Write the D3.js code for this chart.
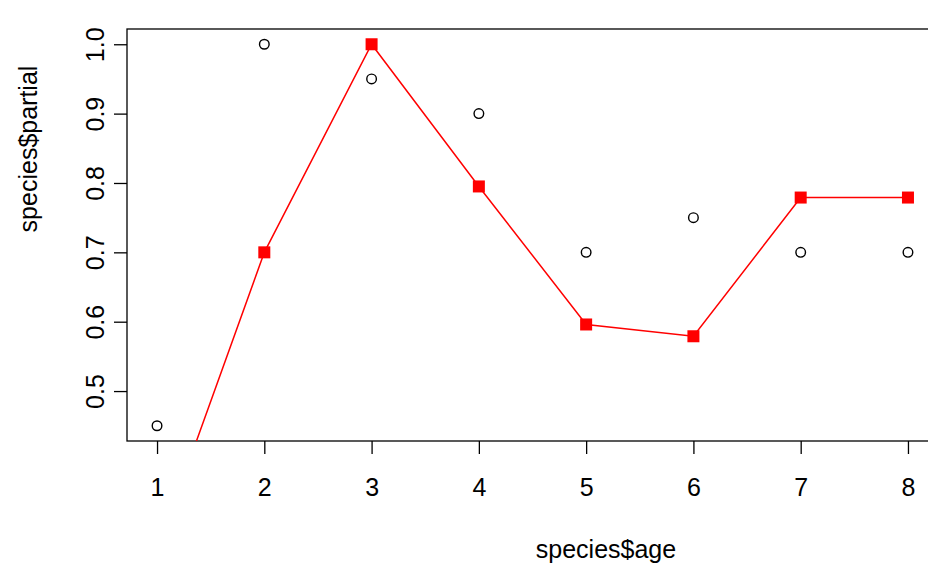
<!DOCTYPE html>
<html>
<head>
<meta charset="utf-8">
<script src="https://cdn.jsdelivr.net/npm/d3@7"></script>
<style>
  body { margin: 0; background: #fff; }
  text { font-family: "Liberation Sans", Arial, sans-serif; fill: #000; }
</style>
</head>
<body>
<svg id="chart" width="928" height="567"></svg>
<script>
// observed values (open circles)
const ages = [1, 2, 3, 4, 5, 6, 7, 8];
const partial = [0.45, 1.0, 0.95, 0.9, 0.7, 0.75, 0.7, 0.7];
// fitted values (red squares + line)
const fitted = [0.27, 0.7, 1.0, 0.795, 0.596, 0.579, 0.779, 0.779];
const xTicks = [1, 2, 3, 4, 5, 6, 7, 8];
const yTicks = [0.5, 0.6, 0.7, 0.8, 0.9, 1.0];

const svg = d3.select("#chart");
const margin = { left: 127, top: 29, right: -10, bottom: 126 };
const width = 928, height = 567;
const fontSize = 25;

// R style 4% padding on the ranges
const xPad = (d3.max(ages) - d3.min(ages)) * 0.04;
const yPad = (d3.max(partial) - d3.min(partial)) * 0.04;

const x = d3.scaleLinear()
  .domain([d3.min(ages) - xPad, d3.max(ages) + xPad])
  .range([margin.left, width - margin.right]);
const y = d3.scaleLinear()
  .domain([d3.min(partial) - yPad, d3.max(partial) + yPad])
  .range([height - margin.bottom, margin.top]);

// clip to plot region
svg.append("clipPath").attr("id", "plotclip")
  .append("rect")
  .attr("x", x.range()[0]).attr("y", y.range()[1])
  .attr("width", x.range()[1] - x.range()[0])
  .attr("height", y.range()[0] - y.range()[1]);

// box
svg.append("rect")
  .attr("x", x.range()[0]).attr("y", y.range()[1])
  .attr("width", x.range()[1] - x.range()[0])
  .attr("height", y.range()[0] - y.range()[1])
  .attr("fill", "none").attr("stroke", "#000").attr("stroke-width", 1.3);

// x axis
const xAxis = svg.append("g")
  .attr("transform", `translate(0,${y.range()[0]})`)
  .call(d3.axisBottom(x).tickValues(xTicks).tickSize(13).tickPadding(24).tickFormat(d3.format("d")));
xAxis.select(".domain").remove();
xAxis.selectAll(".tick line").attr("stroke", "#000").attr("stroke-width", 1.3);
xAxis.selectAll("text").attr("font-size", fontSize).attr("fill", "#000");

// y axis
const yAxis = svg.append("g")
  .attr("transform", `translate(${x.range()[0]},0)`)
  .call(d3.axisLeft(y).tickValues(yTicks).tickSize(13).tickFormat(d3.format(".1f")));
yAxis.select(".domain").remove();
yAxis.selectAll(".tick line").attr("stroke", "#000").attr("stroke-width", 1.3);
yAxis.selectAll("text")
  .attr("font-size", fontSize).attr("fill", "#000")
  .attr("x", null).attr("dy", null)
  .attr("text-anchor", "middle")
  .attr("transform", "translate(-23,0) rotate(-90)")
  .attr("y", 0);

// axis titles
svg.append("text")
  .attr("x", 606).attr("y", 558)
  .attr("text-anchor", "middle").attr("font-size", fontSize)
  .text("species$age");
svg.append("text")
  .attr("transform", "translate(37,149) rotate(-90)")
  .attr("text-anchor", "middle").attr("font-size", fontSize)
  .text("species$partial");

const plot = svg.append("g").attr("clip-path", "url(#plotclip)");

// fitted line
const line = d3.line().x((d, i) => x(ages[i])).y(d => y(d));
plot.append("path")
  .datum(fitted)
  .attr("d", line)
  .attr("fill", "none").attr("stroke", "#ff0000").attr("stroke-width", 1.5);

plot.selectAll("rect.fit")
  .data(fitted)
  .enter().append("rect")
  .attr("class", "fit")
  .attr("x", (d, i) => x(ages[i]) - 6)
  .attr("y", d => y(d) - 6)
  .attr("width", 12).attr("height", 12)
  .attr("fill", "#ff0000");

// observed points
plot.selectAll("circle.obs")
  .data(partial)
  .enter().append("circle")
  .attr("class", "obs")
  .attr("cx", (d, i) => x(ages[i]))
  .attr("cy", d => y(d))
  .attr("r", 4.8)
  .attr("fill", "none").attr("stroke", "#000").attr("stroke-width", 1.4);
</script>
</body>
</html>
